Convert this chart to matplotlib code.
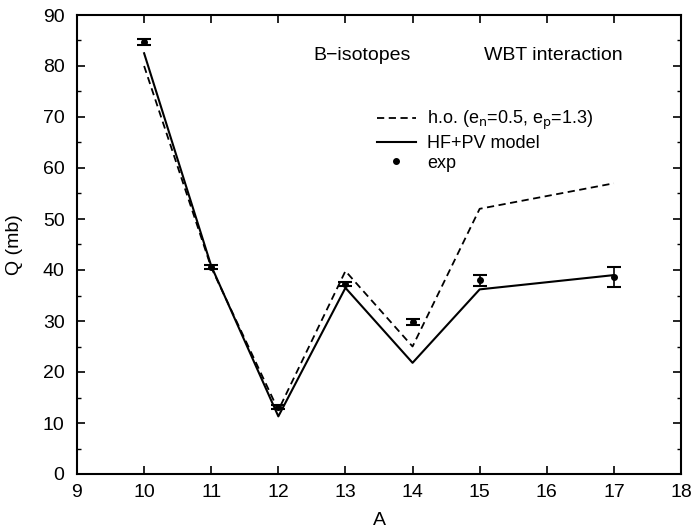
import matplotlib
matplotlib.use("Agg")
import matplotlib.pyplot as plt
from matplotlib.lines import Line2D
from matplotlib.ticker import MultipleLocator

plt.rcParams["font.family"] = ["Liberation Sans", "DejaVu Sans"]

a_vals = [10, 11, 12, 13, 14, 15, 17]
q_ho = [80.0, 40.5, 12.5, 39.8, 25.0, 52.0, 57.0]
q_hfpv = [82.5, 40.8, 11.3, 36.5, 21.8, 36.2, 39.0]
q_exp = [84.7, 40.6, 13.1, 37.3, 29.8, 38.0, 38.6]
q_exp_err = [0.6, 0.4, 0.4, 0.4, 0.6, 1.1, 1.9]

fig = plt.figure(figsize=(6.94, 5.32), dpi=100)
ax = fig.add_axes([77 / 694, 58 / 532, 604 / 694, 459 / 532])

ax.plot(a_vals, q_ho, "k--", lw=1.3, dashes=(4, 2.5))
ax.plot(a_vals, q_hfpv, "k-", lw=1.5)
ax.errorbar(a_vals, q_exp, yerr=q_exp_err, fmt="o", color="k", ms=4,
            capsize=5, capthick=1.5, elinewidth=1.2)

ax.set_xlim(9, 18)
ax.set_ylim(0, 90)
ax.xaxis.set_major_locator(MultipleLocator(1))
ax.yaxis.set_major_locator(MultipleLocator(10))
ax.yaxis.set_minor_locator(MultipleLocator(5))
ax.tick_params(which="both", direction="in", top=True, right=True, labelsize=14)
ax.tick_params(axis="y", pad=9)
ax.tick_params(axis="x", pad=7)
ax.tick_params(which="major", length=6, width=1.2)
ax.tick_params(which="minor", length=3, width=1.0)
for s in ax.spines.values():
    s.set_linewidth(1.5)

ax.set_xlabel("A", fontsize=14, labelpad=8)
ax.set_ylabel("Q (mb)", fontsize=14, labelpad=14)

ax.text(13.25, 82, "B\u2212isotopes", fontsize=14, ha="center", va="center")
ax.text(16.1, 82, "WBT interaction", fontsize=14, ha="center", va="center")

handles = [
    Line2D([], [], color="k", ls="--", lw=1.3, dashes=(4, 2.5)),
    Line2D([], [], color="k", ls="-", lw=1.5),
    Line2D([], [], color="k", ls="none", marker="o", ms=4),
]
labels = [r"h.o. (e$_\mathrm{n}$=0.5, e$_\mathrm{p}$=1.3)", "HF+PV model", "exp"]
ax.legend(handles, labels, loc="upper right", bbox_to_anchor=(0.855, 0.795),
          frameon=False, fontsize=13, handlelength=2.2, handletextpad=0.6,
          labelspacing=0.15, borderpad=0, borderaxespad=0)

fig.savefig("out.png", dpi=100)
